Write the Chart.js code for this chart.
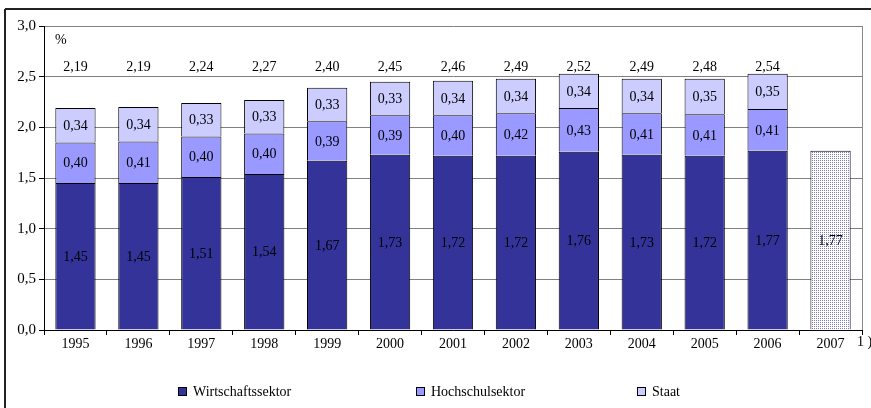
<!DOCTYPE html>
<html>
<head>
<meta charset="utf-8">
<script src="https://cdn.jsdelivr.net/npm/chart.js@4/dist/chart.umd.min.js"></script>
<style>
  html, body { margin: 0; padding: 0; background: #fff; }
  #wrap { position: relative; width: 871px; height: 408px; }
</style>
</head>
<body>
<div id="wrap"><canvas id="myChart" width="871" height="408"></canvas></div>
<script>
// Werte
const years = ['1995', '1996', '1997', '1998', '1999', '2000', '2001', '2002', '2003', '2004', '2005', '2006', '2007']
const wirtschaft = [1.45, 1.45, 1.51, 1.54, 1.67, 1.73, 1.72, 1.72, 1.76, 1.73, 1.72, 1.77, 1.77]
const hochschule = [0.40, 0.41, 0.40, 0.40, 0.39, 0.39, 0.40, 0.42, 0.43, 0.41, 0.41, 0.41, null]
const staat = [0.34, 0.34, 0.33, 0.33, 0.33, 0.33, 0.34, 0.34, 0.34, 0.34, 0.35, 0.35, null]
const totals = [2.19, 2.19, 2.24, 2.27, 2.40, 2.45, 2.46, 2.49, 2.52, 2.49, 2.48, 2.54]
const yTicks = [0, 0.5, 1, 1.5, 2, 2.5, 3]

const FONT = '"Liberation Serif", "Times New Roman", serif'
const fmt = (v, d = 2) => v.toFixed(d).replace('.', ',')

// Punktraster fuer 2007
const makePattern = () => {
    const c = document.createElement('canvas')
    c.width = 2
    c.height = 2
    const p = c.getContext('2d')
    p.fillStyle = '#ffffff'
    p.fillRect(0, 0, 2, 2)
    p.fillStyle = '#7a7ac4'
    p.fillRect(0, 0, 1, 1)
    return p.createPattern(c, 'repeat')
}

const ctx = document.getElementById('myChart').getContext('2d')
const dotPattern = makePattern()

const labelPlugin = {
    id: 'labels',
    beforeDraw(chart) {
        const c = chart.ctx
        c.save()
        c.strokeStyle = '#222'
        c.lineWidth = 2
        c.beginPath()
        c.moveTo(5, 9)
        c.lineTo(871, 9)
        c.moveTo(5, 9)
        c.lineTo(5, 408)
        c.stroke()
        c.restore()
    },
    afterDatasetsDraw(chart) {
        const c = chart.ctx
        const area = chart.chartArea
        const yScale = chart.scales.y
        c.save()
        // rechter Rahmen
        c.strokeStyle = '#888'
        c.lineWidth = 1
        c.beginPath()
        c.moveTo(area.right + 0.5, area.top)
        c.lineTo(area.right + 0.5, area.bottom)
        c.stroke()

        c.font = '14px ' + FONT
        c.fillStyle = '#000'
        c.textAlign = 'center'
        c.textBaseline = 'middle'
        chart.data.datasets.forEach((ds, i) => {
            chart.getDatasetMeta(i).data.forEach((bar, j) => {
                const v = ds.data[j]
                if (v == null) return
                const { x, y, base } = bar.getProps(['x', 'y', 'base'], true)
                c.fillText(fmt(v), x, (y + base) / 2 + 1)
            })
        })
        const bars = chart.getDatasetMeta(0).data
        totals.forEach((t, j) => {
            c.fillText(fmt(t), bars[j].x, yScale.getPixelForValue(2.6) + 1)
        })
        c.textAlign = 'left'
        c.fillText('%', area.left + 11, yScale.getPixelForValue(2.86))
        c.fillText('1 )', area.right - 5, area.bottom + 12)

        // Legende
        const legendX = [178, 416, 637]
        const legendY = 392
        chart.data.datasets.forEach((ds, i) => {
            const x = legendX[i]
            c.fillStyle = ds.legendColor
            c.fillRect(x, legendY - 5, 9, 9)
            c.strokeStyle = '#000'
            c.lineWidth = 1
            c.strokeRect(x + 0.5, legendY - 4.5, 8, 8)
            c.fillStyle = '#000'
            c.fillText(ds.label, x + 15, legendY)
        })
        c.restore()
    }
}

const myChart = new Chart(ctx, {
    type: 'bar',
    data: {
        labels: years,
        datasets: [
            {
                label: 'Wirtschaftssektor',
                data: wirtschaft,
                legendColor: '#333399',
                backgroundColor: c => (c.dataIndex === years.length - 1 ? dotPattern : '#333399'),
                borderColor: '#000',
                borderWidth: 1
            },
            {
                label: 'Hochschulsektor',
                data: hochschule,
                legendColor: '#9999ff',
                backgroundColor: '#9999ff',
                borderColor: '#000',
                borderWidth: 1
            },
            {
                label: 'Staat',
                data: staat,
                legendColor: '#ccccff',
                backgroundColor: '#ccccff',
                borderColor: '#000',
                borderWidth: 1
            }
        ]
    },
    options: {
        responsive: false,
        animation: false,
        layout: { padding: { left: 0, right: 9, top: 26, bottom: 50 } },
        plugins: {
            legend: { display: false },
            tooltip: { enabled: false }
        },
        datasets: {
            bar: { categoryPercentage: 1, barPercentage: 0.64 }
        },
        scales: {
            x: {
                stacked: true,
                afterFit: s => { s.height = 28 },
                grid: {
                    offset: true,
                    drawOnChartArea: false,
                    tickLength: 5,
                    tickColor: '#000'
                },
                border: { color: '#000', width: 1 },
                ticks: { color: '#000', font: { family: FONT, size: 14 }, padding: 1 }
            },
            y: {
                stacked: true,
                min: 0,
                max: 3,
                afterFit: s => { s.width = 44 },
                afterBuildTicks: s => { s.ticks = yTicks.map(v => ({ value: v })) },
                grid: { color: '#808080', tickLength: 5, tickColor: '#000' },
                border: { color: '#000', width: 1 },
                ticks: {
                    color: '#000',
                    padding: 3,
                    font: { family: FONT, size: 15 },
                    callback: v => fmt(v, 1)
                }
            }
        }
    },
    plugins: [labelPlugin]
})
</script>
</body>
</html>
